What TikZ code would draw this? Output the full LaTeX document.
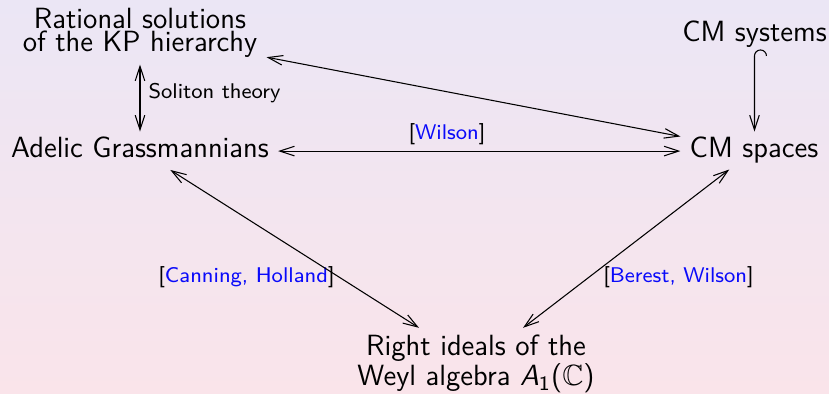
\documentclass[tikz,border=0pt]{standalone}
\usepackage{amssymb}
\usetikzlibrary{arrows.meta}
\definecolor{bgtop}{RGB}{235,230,245}
\definecolor{bgbot}{RGB}{250,228,234}
\definecolor{refblue}{RGB}{10,10,250}
\begin{document}
\begin{tikzpicture}[x=0.376pt,y=-0.376pt,
  obj/.style={font=\sffamily\fontsize{11}{13}\selectfont, inner xsep=3.3pt, inner ysep=2pt},
  multi/.style={align=center, inner xsep=3.3pt, inner ysep=2.4pt},
  lbl/.style={font=\sffamily\fontsize{8}{9.6}\selectfont, inner sep=0pt},
  tipe/.tip={Straight Barb[length=5.5pt,width=3.6pt]},
  arr/.style={line width=0.4pt},
]
\useasboundingbox (0,0) rectangle (829,394);
\shade[top color=bgtop, bottom color=bgbot] (0,0) rectangle (829,394);

% objects
\node[multi, font=\sffamily\fontsize{11}{8.65}\selectfont] (kp) at (140,33) {Rational solutions\\of the KP hierarchy};
\node[obj, anchor=base, text depth=2.3pt] (adelic) at (140,158) {Adelic Grassmannians};
\node[obj, anchor=base] (spaces) at (754,158) {CM spaces};
\node[obj, anchor=base] (systems) at (754.5,42) {CM systems};
\node[multi, font=\sffamily\fontsize{11}{10.5}\selectfont] (right) at (476,364) {Right ideals of the\\Weyl algebra {\itshape A}\textsubscript{1}($\mathbb{C}$)};

% labels
\node[lbl, anchor=base west] (lsol) at (148,99) {Soliton theory};
\node[lbl, anchor=base] (lwil) at (447,140) {[\textcolor{refblue}{Wilson}]};
\node[lbl, anchor=base] (lch) at (246.5,283) {[\textcolor{refblue}{Canning, Holland}]};
\node[lbl, anchor=base] (lbw) at (678.5,283) {[\textcolor{refblue}{Berest, Wilson}]};

% connectors
\draw[arr, tipe-tipe] (kp) -- (adelic);
\draw[arr, tipe-tipe] (kp) -- (spaces);
\draw[arr, tipe-tipe] ([yshift=2.6pt]adelic.base east) -- ([yshift=2.6pt]spaces.base west);
\draw[arr, tipe-tipe] (adelic) -- (right);
\draw[arr, tipe-tipe] (spaces) -- (right);
\draw[arr, -tipe] ([xshift=4.5pt,yshift=-0.8pt]systems.south) arc[start angle=0,end angle=180,radius=2.25pt] -- (systems.south |- spaces.north);
\end{tikzpicture}
\end{document}
